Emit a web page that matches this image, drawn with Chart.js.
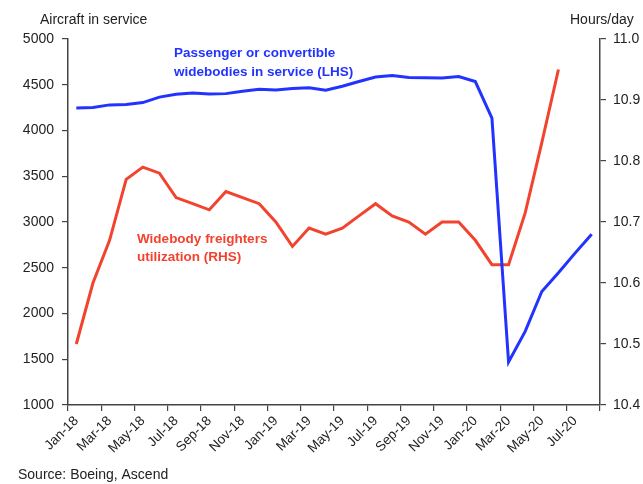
<!DOCTYPE html>
<html>
<head>
<meta charset="utf-8">
<script src="https://cdn.jsdelivr.net/npm/chart.js@4/dist/chart.umd.min.js"></script>
<style>
  html, body { margin: 0; padding: 0; background: #fff; }
  #wrap { width: 643px; height: 484px; position: relative; }
</style>
</head>
<body>
<div id="wrap"><canvas id="c" width="643" height="484"></canvas></div>
<script>
const months = ["Jan-18","Feb-18","Mar-18","Apr-18","May-18","Jun-18","Jul-18","Aug-18","Sep-18","Oct-18","Nov-18","Dec-18",
  "Jan-19","Feb-19","Mar-19","Apr-19","May-19","Jun-19","Jul-19","Aug-19","Sep-19","Oct-19","Nov-19","Dec-19",
  "Jan-20","Feb-20","Mar-20","Apr-20","May-20","Jun-20","Jul-20","Aug-20"];

// Passenger or convertible widebodies in service (LHS)
const passengerWidebodies = [4247, 4252, 4280, 4285, 4305, 4365, 4395, 4410, 4398, 4403, 4428, 4452,
  4443, 4458, 4468, 4440, 4483, 4535, 4585, 4600, 4580, 4577, 4573, 4590,
  4535, 4135, 1470, 1805, 2240, 2445, 2660, 2865];

// Widebody freighters utilization (RHS), hours/day
const freighterUtilization = [10.50, 10.60, 10.67, 10.77, 10.79, 10.78, 10.74, 10.73, 10.72, 10.75, 10.74, 10.73,
  10.70, 10.66, 10.69, 10.68, 10.69, 10.71, 10.73, 10.71, 10.70, 10.68, 10.70, 10.70,
  10.67, 10.63, 10.63, 10.715, 10.83, 10.95, null, null];

const leftTicks = { min: 1000, max: 5000, step: 500 };
const rightTicks = { min: 10.4, max: 11.0, step: 0.1 };

const BLUE = '#2233ff';
const RED = '#f2432f';
const AXIS = '#444444';
const TXT = '#222222';
const FONT = "'Liberation Sans', Arial, Helvetica, sans-serif";

const textPlugin = {
  id: 'texts',
  afterDraw(chart) {
    const ctx = chart.ctx;
    ctx.save();
    ctx.textBaseline = 'middle';
    ctx.textAlign = 'left';
    ctx.font = "14px " + FONT;
    ctx.fillStyle = TXT;
    ctx.fillText('Aircraft in service', 40, 20);
    ctx.fillText('Hours/day', 570, 20);
    ctx.fillText('Source: Boeing, Ascend', 18, 475);
    ctx.font = "bold 13.5px " + FONT;
    ctx.fillStyle = BLUE;
    ctx.fillText('Passenger or convertible', 174, 53);
    ctx.fillText('widebodies in service (LHS)', 174, 72);
    ctx.fillStyle = RED;
    ctx.fillText('Widebody freighters', 137, 239);
    ctx.fillText('utilization (RHS)', 137, 257);
    ctx.restore();
  }
};

new Chart(document.getElementById('c'), {
  type: 'line',
  data: {
    labels: months,
    datasets: [
      {
        label: 'Passenger or convertible widebodies in service (LHS)',
        data: passengerWidebodies,
        yAxisID: 'y',
        borderColor: BLUE,
        borderWidth: 3,
        pointRadius: 0,
        tension: 0,
        fill: false
      },
      {
        label: 'Widebody freighters utilization (RHS)',
        data: freighterUtilization,
        yAxisID: 'y1',
        borderColor: RED,
        borderWidth: 3,
        pointRadius: 0,
        tension: 0,
        fill: false,
        spanGaps: false
      }
    ]
  },
  options: {
    responsive: false,
    animation: false,
    devicePixelRatio: 1,
    layout: { padding: { top: 39, left: 0, right: 0, bottom: 0 } },
    plugins: { legend: { display: false }, tooltip: { enabled: false }, title: { display: false } },
    scales: {
      x: {
        type: 'category',
        offset: true,
        grid: {
          offset: true,
          drawOnChartArea: false,
          drawTicks: true,
          tickLength: 6,
          lineWidth: 1.2,
          color: (c) => (c.index === undefined || c.index % 2 === 0) ? AXIS : 'rgba(0,0,0,0)'
        },
        border: { display: true, color: AXIS, width: 1.5 },
        ticks: {
          autoSkip: false,
          maxRotation: 45,
          minRotation: 45,
          padding: 2,
          color: TXT,
          font: { family: FONT, size: 13.5 },
          callback: function (v, i) { return i % 2 === 0 ? this.getLabelForValue(v) : ''; }
        },
        afterFit: (s) => { s.height = 79; }
      },
      y: {
        position: 'left',
        min: leftTicks.min,
        max: leftTicks.max,
        grid: { drawOnChartArea: false, drawTicks: true, tickLength: 6, color: AXIS, lineWidth: 1.2 },
        border: { display: true, color: AXIS, width: 1.5 },
        ticks: {
          stepSize: leftTicks.step,
          padding: 8,
          color: TXT,
          font: { family: FONT, size: 14 },
          callback: (v) => String(v)
        },
        afterFit: (s) => { s.width = 68; }
      },
      y1: {
        position: 'right',
        min: rightTicks.min,
        max: rightTicks.max,
        grid: { drawOnChartArea: false, drawTicks: true, tickLength: 6, color: AXIS, lineWidth: 1.2 },
        border: { display: true, color: AXIS, width: 1.5 },
        ticks: {
          stepSize: rightTicks.step,
          padding: 7,
          color: TXT,
          font: { family: FONT, size: 14 },
          callback: (v) => Number(v).toFixed(1)
        },
        afterFit: (s) => { s.width = 43; }
      }
    }
  },
  plugins: [textPlugin]
});
</script>
</body>
</html>
